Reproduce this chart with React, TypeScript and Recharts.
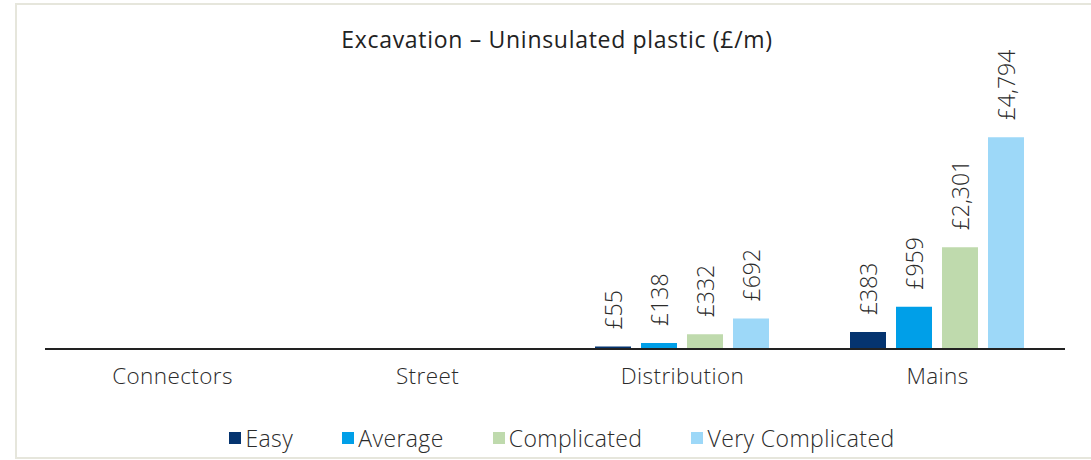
import React from "react";
import { BarChart, Bar, XAxis, YAxis, Legend, LabelList } from "recharts";

const categories = ["Connectors", "Street", "Distribution", "Mains"];
const easy: (number | null)[] = [null, null, 55, 383];
const average: (number | null)[] = [null, null, 138, 959];
const complicated: (number | null)[] = [null, null, 332, 2301];
const veryComplicated: (number | null)[] = [null, null, 692, 4794];

const seriesNames = ["Easy", "Average", "Complicated", "Very Complicated"];
const seriesKeys = ["easy", "average", "complicated", "veryComplicated"];
const seriesColors = ["#05346F", "#009FE8", "#BFDAAD", "#9DD8F8"];

const data = categories.map((c, i) => ({
  name: c,
  easy: easy[i],
  average: average[i],
  complicated: complicated[i],
  veryComplicated: veryComplicated[i],
}));

const FONT = "'Open Sans', Lato, sans-serif";
const WEIGHT = 300;
const TEXT = "#2b2b2b";
const SIZE = 23;

const RotLabel = (props: any) => {
  const { x, y, width, value } = props;
  if (value === null || value === undefined) return null;
  const cx = Number(x) + Number(width) / 2;
  const cy = Number(y) - 17;
  return (
    <text
      x={cx}
      y={cy}
      transform={`rotate(-90, ${cx}, ${cy})`}
      textAnchor="start"
      dominantBaseline="central"
      fontFamily={FONT}
      fontWeight={WEIGHT}
      fontSize={SIZE}
      fill={TEXT}
    >
      {"£" + Number(value).toLocaleString("en-GB")}
    </text>
  );
};

const LegendContent = () => (
  <div
    style={{
      display: "flex",
      justifyContent: "center",
      fontFamily: FONT,
      fontWeight: WEIGHT,
      fontSize: SIZE,
      color: TEXT,
      letterSpacing: 0.4,
    }}
  >
    {seriesNames.map((n, i) => (
      <div key={n} style={{ display: "flex", alignItems: "center", marginRight: i < 3 ? 49 : 0 }}>
        <span
          style={{
            display: "inline-block",
            width: 12,
            height: 12,
            background: seriesColors[i],
            marginRight: 4,
          }}
        />
        <span>{n}</span>
      </div>
    ))}
  </div>
);

export default function App() {
  return (
    <div style={{ position: "fixed", left: 0, top: 0, width: 1091, height: 460, background: "#fff", overflow: "hidden" }}>
      <div
        style={{
          position: "absolute",
          left: 15,
          top: 3,
          width: 1100,
          height: 452,
          border: "2px solid #E6E6DC",
        }}
      />
      <div
        style={{
          position: "absolute",
          left: 0,
          top: 23,
          width: 1114,
          textAlign: "center",
          fontFamily: FONT,
          fontWeight: 400,
          fontSize: SIZE,
          color: "#222",
          letterSpacing: 0.7,
        }}
      >
        Excavation – Uninsulated plastic (£/m)
      </div>
      <div style={{ position: "absolute", left: 0, top: 0 }}>
        <BarChart
          width={1091}
          height={460}
          data={data}
          margin={{ top: 84, right: 26, bottom: 71, left: 45 }}
          barCategoryGap={40}
          barGap={10}
        >
          <XAxis
            dataKey="name"
            height={40}
            tickLine={false}
            axisLine={{ stroke: "#222", strokeWidth: 2 }}
            tick={{ fontFamily: FONT, fontWeight: WEIGHT, fontSize: 22.5, fill: TEXT, letterSpacing: 0.4 }}
            tickMargin={13}
          />
          <YAxis hide domain={[0, 6000]} />
          <Legend
            layout="horizontal"
            verticalAlign="middle"
            align="center"
            content={<LegendContent />}
            wrapperStyle={{ top: 422, left: 0, width: 1124 }}
          />
          {seriesKeys.map((k, i) => (
            <Bar key={k} dataKey={k} name={seriesNames[i]} fill={seriesColors[i]} isAnimationActive={false}>
              <LabelList dataKey={k} content={<RotLabel />} />
            </Bar>
          ))}
        </BarChart>
      </div>
    </div>
  );
}
